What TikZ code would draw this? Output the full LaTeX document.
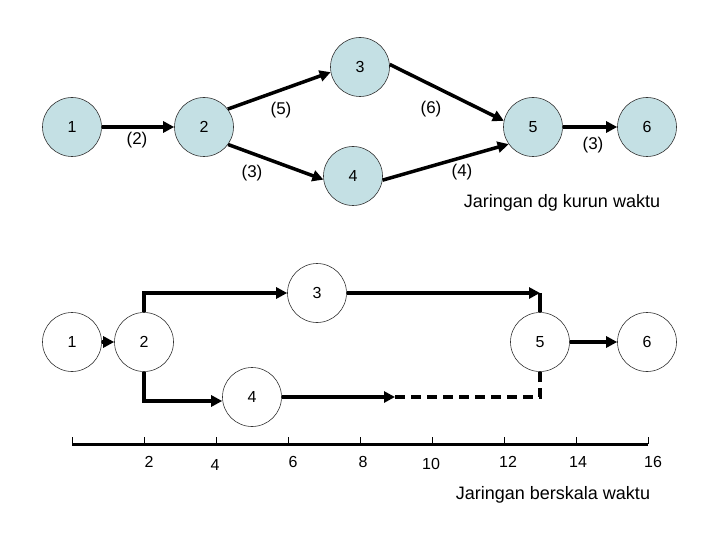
\documentclass[tikz,border=0pt]{standalone}
\usepackage{fontspec}
\setmainfont{Liberation Sans}
\usetikzlibrary{arrows.meta}
\definecolor{nodeblue}{RGB}{196,224,228}
\begin{document}
\begin{tikzpicture}[x=1pt,y=-1pt,
  evt/.style={circle,draw=black!80,line width=0.6pt,minimum size=59pt,inner sep=0pt,font=\fontsize{16}{18}\selectfont},
  evtb/.style={evt,fill=nodeblue},
  evtw/.style={evt,fill=white},
  arr/.style={line width=3.5pt,-{Triangle[length=11pt,width=11pt]}},
  ln/.style={line width=3.5pt},
  dsh/.style={line width=3.5pt,dash pattern=on 10pt off 6pt},
  lbl/.style={font=\fontsize{17}{19}\selectfont,inner sep=0pt},
  captxt/.style={font=\fontsize{18}{20}\selectfont,inner sep=0pt},
  tickln/.style={line width=0.8pt},
  ax/.style={line width=3pt},
  tl/.style={font=\fontsize{16}{18}\selectfont,inner sep=0pt}]
\useasboundingbox (0,0) rectangle (720,540);
% top network
\node[evtb] (t1) at (72,127) {1};
\node[evtb] (t2) at (204,127) {2};
\node[evtb] (t3) at (360,67) {3};
\node[evtb] (t4) at (353,176) {4};
\node[evtb] (t5) at (533,127) {5};
\node[evtb] (t6) at (647,127) {6};
\draw[arr] (t1.east) -- (t2.west);
\draw[arr] (t2.37) -- (t3.190);
\draw[arr] (t2.-36) -- (t4.187);
\draw[arr] (t3.5) -- (t5.168);
\draw[arr] (t4.-8) -- (t5.215);
\draw[arr] (t5.east) -- (t6.west);
\node[lbl] (l12) at (137,140) {(2)};
\node[lbl] (l23) at (281,110) {(5)};
\node[lbl] (l24) at (252,173) {(3)};
\node[lbl] (l35) at (431,109) {(6)};
\node[lbl] (l45) at (462,172) {(4)};
\node[lbl] (l56) at (593,145) {(3)};
\node[captxt] (capt) at (562,203) {Jaringan dg kurun waktu};
% bottom network
\node[evtw] (b1) at (72,342) {1};
\node[evtw] (b2) at (144,342) {2};
\node[evtw] (b3) at (317,293) {3};
\node[evtw] (b4) at (252,397) {4};
\node[evtw] (b5) at (540,342) {5};
\node[evtw] (b6) at (647,342) {6};
\coordinate (c1) at (540,293);
\coordinate (d1) at (395,397);
\coordinate (d2) at (540,397);
\draw[arr] (b1.east) -- (b2.west);
\draw[arr] (b2.north) |- (b3.west);
\draw[arr] (b2.south) |- ([yshift=-4pt]b4.west);
\draw[arr] (b3.east) -- (c1);
\draw[ln] (c1) -- (b5.north);
\draw[arr] (b4.east) -- (d1);
\draw[dsh] (d1) -- (d2) -- (b5.south);
\draw[arr] (b5.east) -- (b6.west);
% time axis
\coordinate (a0) at (72,444);
\coordinate (a1) at (648,444);
\draw[ax] (a0) -- (a1);
\foreach \k in {0,...,8} {
  \draw[tickln] (72+72*\k,437) -- (72+72*\k,444);
}
\node[tl] (t2l) at (149,462) {2};
\node[tl] (t4l) at (215,465) {4};
\node[tl] (t6l) at (293,462) {6};
\node[tl] (t8l) at (363,462) {8};
\node[tl] (t10l) at (431,464) {10};
\node[tl] (t12l) at (508,462) {12};
\node[tl] (t14l) at (578,462) {14};
\node[tl] (t16l) at (653,462) {16};
\node[captxt] (capb) at (553,495) {Jaringan berskala waktu};
\end{tikzpicture}
\end{document}
